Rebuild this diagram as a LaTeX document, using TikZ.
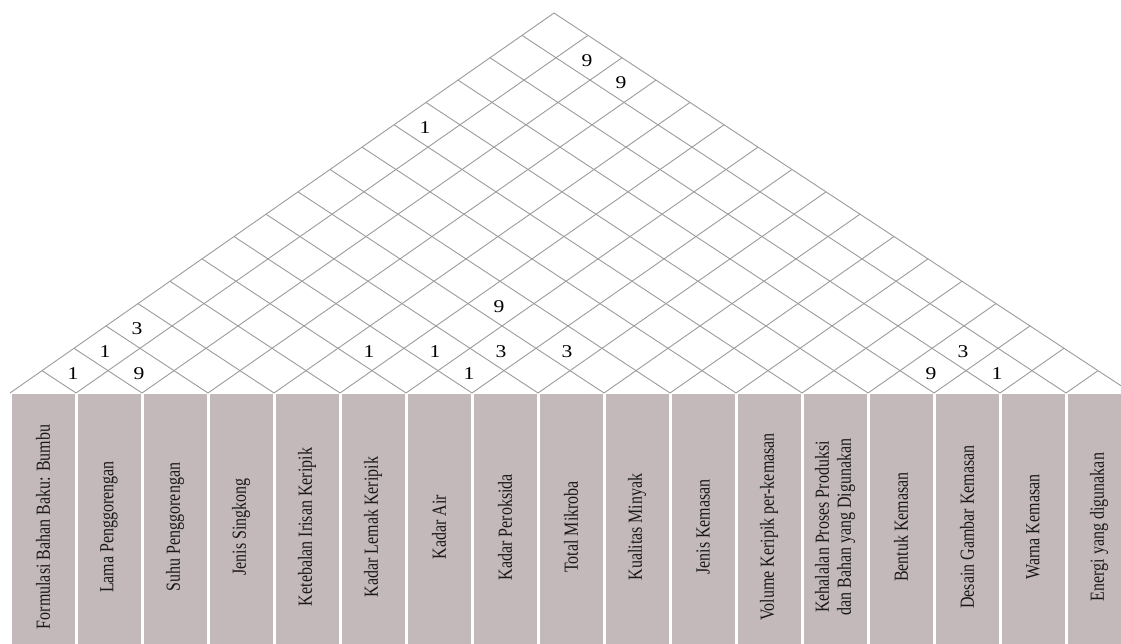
\documentclass[tikz,border=0pt]{standalone}
\usepackage{fontspec}
\newfontfamily\labelfont[FakeStretch=0.8]{Liberation Serif}
\newfontfamily\numfont[FakeStretch=1.2]{Liberation Serif}
\usepackage{tikz}
\definecolor{colfill}{RGB}{196,185,186}
\definecolor{roofgray}{RGB}{155,155,155}

\begin{document}
\begin{tikzpicture}[x=1pt, y=1pt,
  col/.style={fill=colfill, rotate=90, minimum width=266pt, minimum height=63pt,
    inner sep=0pt, align=center, text=black!90,
    font=\labelfont\fontsize{20}{22}\selectfont},
  num/.style={font=\numfont\fontsize{18}{18}\selectfont, inner sep=0pt,
    xshift=-2pt, yshift=-3pt},
  roof/.style={draw=roofgray, line width=0.9pt}]
\useasboundingbox (0,0) rectangle (1121,644);
\node[col] (c1) at (43,117) {Formulasi Bahan Baku: Bumbu};
\node[col] (c2) at (109,117) {Lama Penggorengan};
\node[col] (c3) at (175,117) {Suhu Penggorengan};
\node[col] (c4) at (241,117) {Jenis Singkong};
\node[col] (c5) at (307,117) {Ketebalan Irisan Keripik};
\node[col] (c6) at (373,117) {Kadar Lemak Keripik};
\node[col] (c7) at (439,117) {Kadar Air};
\node[col] (c8) at (505,117) {Kadar Peroksida};
\node[col] (c9) at (571,117) {Total Mikroba};
\node[col] (c10) at (637,117) {Kualitas Minyak};
\node[col] (c11) at (703,117) {Jenis Kemasan};
\node[col] (c12) at (769,117) {Volume Keripik per-kemasan};
\node[col] (c13) at (835,117) {Kehalalan Proses Produksi\\dan Bahan yang Digunakan};
\node[col] (c14) at (901,117) {Bentuk Kemasan};
\node[col] (c15) at (967,117) {Desain Gambar Kemasan};
\node[col] (c16) at (1033,117) {Warna Kemasan};
\node[col] (c17) at (1099,117) {Energi yang digunakan};
\begin{scope}[shift={(10,251)}, x={(32pt,22.35pt)}, y={(34pt,-22.35pt)}]
\draw[roof] (0,0) -- (17,0) -- (17,17);
\foreach \k in {1,...,16}
  \draw[roof] (\k,0) -- (\k,\k) -- (17,\k);
\node[num] (m1-2) at (1.5,0.5) {1};
\node[num] (m1-3) at (2.5,0.5) {1};
\node[num] (m1-4) at (3.5,0.5) {3};
\node[num] (m1-13) at (12.5,0.5) {1};
\node[num] (m2-3) at (2.5,1.5) {9};
\node[num] (m2-17) at (16.5,1.5) {9};
\node[num] (m3-17) at (16.5,2.5) {9};
\node[num] (m5-7) at (6.5,4.5) {1};
\node[num] (m6-8) at (7.5,5.5) {1};
\node[num] (m6-10) at (9.5,5.5) {9};
\node[num] (m7-8) at (7.5,6.5) {1};
\node[num] (m7-9) at (8.5,6.5) {3};
\node[num] (m8-10) at (9.5,7.5) {3};
\node[num] (m14-15) at (14.5,13.5) {9};
\node[num] (m14-16) at (15.5,13.5) {3};
\node[num] (m15-16) at (15.5,14.5) {1};
\end{scope}
\end{tikzpicture}
\end{document}
